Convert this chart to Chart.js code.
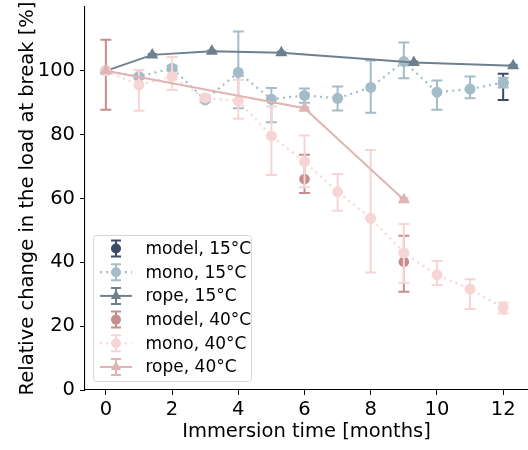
<!DOCTYPE html>
<html>
<head>
<meta charset="utf-8">
<script src="https://cdn.jsdelivr.net/npm/chart.js@4/dist/chart.umd.min.js"></script>
<style>
html,body{margin:0;padding:0;background:#fff;overflow:hidden;}
#wrap{width:528px;height:450px;position:relative;overflow:hidden;}
</style>
</head>
<body>
<div id="wrap"><canvas id="c" width="535" height="450"></canvas></div>
<script>
// ---- data ----
const months = [0,1,2,3,4,5,6,7,8,9,10,11,12];

const model15X  = [0, 12];
const model15Y  = [100, 96.3];
const model15Lo = [100, 90.9];
const model15Hi = [100, 99.1];

const mono15Y  = [100, 98.2, 100.8, 90.9, 99.5, 91.1, 92.3, 91.4, 94.8, 102.9, 93.3, 94.3, 96.3];
const mono15Lo = [100, 97.6, 100.0, 90.2, 88.3, 83.9, 90.0, 87.6, 86.9, 97.7, 87.8, 91.4, 94.8];
const mono15Hi = [100, 98.8, 101.6, 91.6, 112.3, 94.6, 94.5, 95.1, 103.2, 108.9, 97.0, 98.2, 97.8];

const rope15X  = [0, 1.4, 3.2, 5.3, 9.3, 12.3];
const rope15Y  = [100, 105.0, 106.1, 105.7, 102.6, 101.6];
const rope15Lo = [100, 104.7, 105.8, 105.4, 102.3, 101.3];
const rope15Hi = [100, 105.3, 106.4, 106.0, 102.9, 101.9];

const model40X  = [0, 6, 9];
const model40Y  = [100, 66.1, 40.2];
const model40Lo = [87.8, 61.7, 30.8];
const model40Hi = [109.7, 73.7, 48.3];

const mono40Y  = [100, 95.6, 98.2, 91.5, 90.6, 79.6, 71.6, 62.1, 53.8, 43.0, 36.1, 31.6, 25.8];
const mono40Lo = [100, 87.5, 94.0, 90.6, 85.0, 67.4, 63.5, 56.2, 36.8, 33.6, 32.9, 25.4, 24.0];
const mono40Hi = [100, 100.3, 104.3, 92.4, 97.2, 88.8, 79.7, 67.7, 75.2, 52.0, 40.4, 34.7, 27.4];

const rope40X  = [0, 6, 9];
const rope40Y  = [100, 88.3, 59.6];
const rope40Lo = [100, 88.0, 59.1];
const rope40Hi = [100, 88.6, 60.1];

const xTicks = [0, 2, 4, 6, 8, 10, 12];
const yTicks = [0, 20, 40, 60, 80, 100];

const labels = ['model, 15°C','mono, 15°C','rope, 15°C','model, 40°C','mono, 40°C','rope, 40°C'];
const xTitle = 'Immersion time [months]';
const yTitle = 'Relative change in the load at break [%]';

// ---- build datasets ----
function pts(xs, ys, lo, hi){ return xs.map((x,i)=>({x:x, y:ys[i], lo:lo[i], hi:hi[i]})); }

const colors = ['#3c4b66','#a4bcc8','#6d808f','#c48e8e','#f8d5d5','#e0b4b4'];
const kinds  = ['model','mono','rope','model','mono','rope'];
const series = [
  pts(model15X, model15Y, model15Lo, model15Hi),
  pts(months, mono15Y, mono15Lo, mono15Hi),
  pts(rope15X, rope15Y, rope15Lo, rope15Hi),
  pts(model40X, model40Y, model40Lo, model40Hi),
  pts(months, mono40Y, mono40Lo, mono40Hi),
  pts(rope40X, rope40Y, rope40Lo, rope40Hi)
];

const FONT = 'DejaVu Sans';

const datasets = series.map((d,i)=>{
  const k = kinds[i];
  return {
    label: labels[i],
    data: d,
    order: -i,
    showLine: k !== 'model',
    borderColor: colors[i],
    backgroundColor: colors[i],
    borderWidth: k === 'mono' ? 2.2 : 2,
    borderDash: k === 'mono' ? [2, 4.2] : [],
    pointStyle: k === 'rope' ? 'triangle' : 'circle',
    pointRadius: k === 'rope' ? 7 : (k === 'model' ? 5.3 : 5.5),
    pointBorderWidth: 0,
    pointHoverRadius: 0,
    kind: k
  };
});

// error bars drawn per dataset before its line/points
const errorBars = {
  id: 'errorBars',
  beforeDatasetDraw(chart, args){
    const ds = chart.data.datasets[args.index];
    const xs = chart.scales.x, ys = chart.scales.y;
    const ctx = chart.ctx;
    const cap = ds.kind === 'rope' ? 4.5 : 5.5;
    ctx.save();
    ctx.strokeStyle = ds.borderColor;
    ctx.lineWidth = 2;
    ctx.setLineDash([]);
    ds.data.forEach(p=>{
      const px = xs.getPixelForValue(p.x);
      const y1 = ys.getPixelForValue(p.lo);
      const y2 = ys.getPixelForValue(p.hi);
      if (Math.abs(y1-y2) < 0.5) return;
      ctx.beginPath();
      ctx.moveTo(px, y1); ctx.lineTo(px, y2);
      ctx.moveTo(px-cap, y1); ctx.lineTo(px+cap, y1);
      ctx.moveTo(px-cap, y2); ctx.lineTo(px+cap, y2);
      ctx.stroke();
    });
    ctx.restore();
  }
};

// legend drawn like the matplotlib one (with error-bar handles)
const customLegend = {
  id: 'customLegend',
  afterDraw(chart){
    const ctx = chart.ctx;
    const bx = 93.5, by = 235.5, bw = 158, bh = 146;
    ctx.save();
    ctx.fillStyle = 'rgba(255,255,255,0.8)';
    ctx.strokeStyle = '#d6d6d6';
    ctx.lineWidth = 1;
    ctx.beginPath();
    if (ctx.roundRect) ctx.roundRect(bx, by, bw, bh, 3); else ctx.rect(bx, by, bw, bh);
    ctx.fill(); ctx.stroke();
    const ys0 = 248.5, dy = 23.7;
    chart.data.datasets.forEach((ds,i)=>{
      const y = ys0 + i*dy;
      const cx = 116;
      ctx.strokeStyle = ds.borderColor;
      ctx.fillStyle = ds.backgroundColor;
      if (ds.kind !== 'model'){
        ctx.lineWidth = ds.borderWidth;
        ctx.setLineDash(ds.borderDash);
        ctx.beginPath(); ctx.moveTo(100, y); ctx.lineTo(132, y); ctx.stroke();
      }
      ctx.setLineDash([]);
      ctx.lineWidth = 2;
      ctx.beginPath();
      ctx.moveTo(cx, y-8); ctx.lineTo(cx, y+8);
      ctx.moveTo(cx-5, y-8); ctx.lineTo(cx+5, y-8);
      ctx.moveTo(cx-5, y+8); ctx.lineTo(cx+5, y+8);
      ctx.stroke();
      Chart.helpers.drawPoint(ctx, {pointStyle: ds.pointStyle, radius: ds.kind === 'rope' ? 6 : 5, borderWidth: 0, rotation: 0}, cx, y);
      ctx.fillStyle = '#000';
      ctx.font = '17px "' + FONT + '"';
      ctx.textAlign = 'left';
      ctx.textBaseline = 'middle';
      ctx.fillText(ds.label, 145.5, y + 1);
    });
    ctx.restore();
  }
};

new Chart(document.getElementById('c'), {
  type: 'scatter',
  data: { datasets: datasets },
  plugins: [errorBars, customLegend],
  options: {
    responsive: false,
    animation: false,
    events: [],
    layout: { padding: { left: 0, right: 0, top: 7, bottom: 0 } },
    plugins: { legend: { display: false }, tooltip: { enabled: false } },
    scales: {
      x: {
        type: 'linear', min: -0.63, max: 12.75,
        afterBuildTicks(s){ s.ticks = xTicks.map(v=>({value:v})); },
        afterFit(s){ s.height = 60; s.paddingLeft = 0; s.paddingRight = 0; },
        grid: { drawOnChartArea: false, drawTicks: true, tickLength: 5, tickColor: '#000', tickWidth: 1 },
        border: { display: true, color: '#000', width: 1.1 },
        ticks: { color: '#000', font: { family: FONT, size: 19.5 }, padding: 3, maxRotation: 0,
                 callback: v => String(v) },
        title: { display: true, text: xTitle, color: '#000', font: { family: FONT, size: 19.5 },
                 padding: { top: 0, bottom: 6 } }
      },
      y: {
        type: 'linear', min: 0, max: 120,
        afterBuildTicks(s){ s.ticks = yTicks.map(v=>({value:v})); },
        afterFit(s){ s.width = 85; s.paddingTop = 0; s.paddingBottom = 0; },
        grid: { drawOnChartArea: false, drawTicks: true, tickLength: 5, tickColor: '#000', tickWidth: 1 },
        border: { display: true, color: '#000', width: 1.1 },
        ticks: { color: '#000', font: { family: FONT, size: 19.5 }, padding: 5,
                 callback: v => String(v) },
        title: { display: true, text: yTitle, color: '#000', font: { family: FONT, size: 19.5 },
                 padding: { top: 16, bottom: 0 } }
      }
    }
  }
});
</script>
</body>
</html>
